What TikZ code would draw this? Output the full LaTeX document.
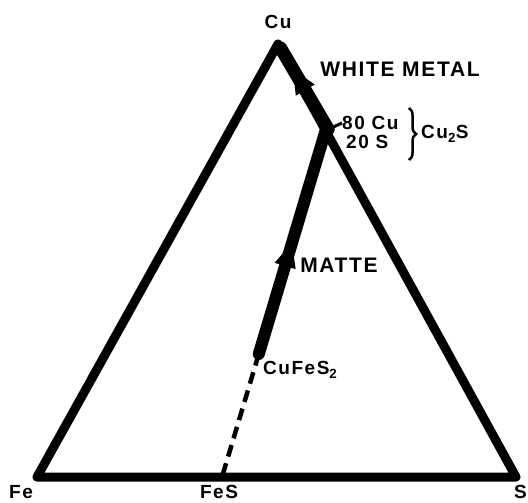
\documentclass[tikz,border=0pt]{standalone}
\usepackage{fontspec}
\setmainfont{Liberation Sans}[LetterSpace=8]
\usetikzlibrary{calc,decorations.markings,decorations.pathreplacing,arrows.meta}
\begin{document}
\begin{tikzpicture}[x=1pt,y=-1pt,
  lbl/.style={inner sep=0pt, font=\bfseries\fontsize{21}{21}\selectfont},
  small/.style={inner sep=0pt, font=\bfseries\fontsize{19}{19}\selectfont},
  edge/.style={line width=9pt, line join=round, line cap=round},
  process/.style={line width=12pt, line cap=round},
  midarrow/.style={postaction={decorate, decoration={markings,
     mark=at position #1 with {\fill (-13pt,-11pt) -- (11pt,0pt) -- (-13pt,11pt) -- cycle;}}}},
  dashline/.style={line width=4.5pt, dash pattern=on 12pt off 7pt}
]
\useasboundingbox (0,0) rectangle (528,503);
\coordinate (Cu) at (278,44);
\coordinate (Fe) at (37,477);
\coordinate (S) at (516,477);
\coordinate (FeS) at (222,477);
\coordinate (Cu2S) at ($(Cu)!0.2!(S)$);
\coordinate (CuFeS2) at ($(FeS)!0.355!(Cu2S)$);
\coordinate (Cu2Sout) at ($(Cu2S)+(2.6,-1.4)$);
\coordinate (Cuout) at ($(Cu)+(2.6,4)$);

% triangle
\draw[edge] (Cu) -- (Fe) -- (S) -- cycle;

% dashed tie line to FeS
\draw[dashline] (CuFeS2) -- (FeS);

% matte path
\draw[process, midarrow=0.45] (CuFeS2) -- (Cu2S);

% white metal path
\draw[line width=13pt, line cap=round, midarrow=0.62] (Cu2Sout) -- (Cuout);

% labels
\node[small] (lCu) at (278,22) {Cu};
\node[lbl] (lWM) at (400,69) {WHITE METAL};
\node[small, anchor=west] (c80) at (342,123) {80 Cu};
\node[small, anchor=west] (s20) at (346,142) {20 S};
\draw[line width=3pt] (Cu2S) -- (c80.west);
\draw[line width=2.5pt, decorate, decoration={brace, amplitude=7pt}] (409,108) -- (409,160);
\node[small, anchor=west] (lCu2S) at (421,134) {Cu\textsubscript{2}S};
\node[lbl] (lMatte) at (339,265) {MATTE};
\node[small, anchor=west] (lCuFeS2) at (263,370) {CuFeS\textsubscript{2}};
\node[small] (lFe) at (21,492) {Fe};
\node[small] (lFeS) at (219,492) {FeS};
\node[small, anchor=west] (lS) at (514,492) {S};
\end{tikzpicture}
\end{document}
